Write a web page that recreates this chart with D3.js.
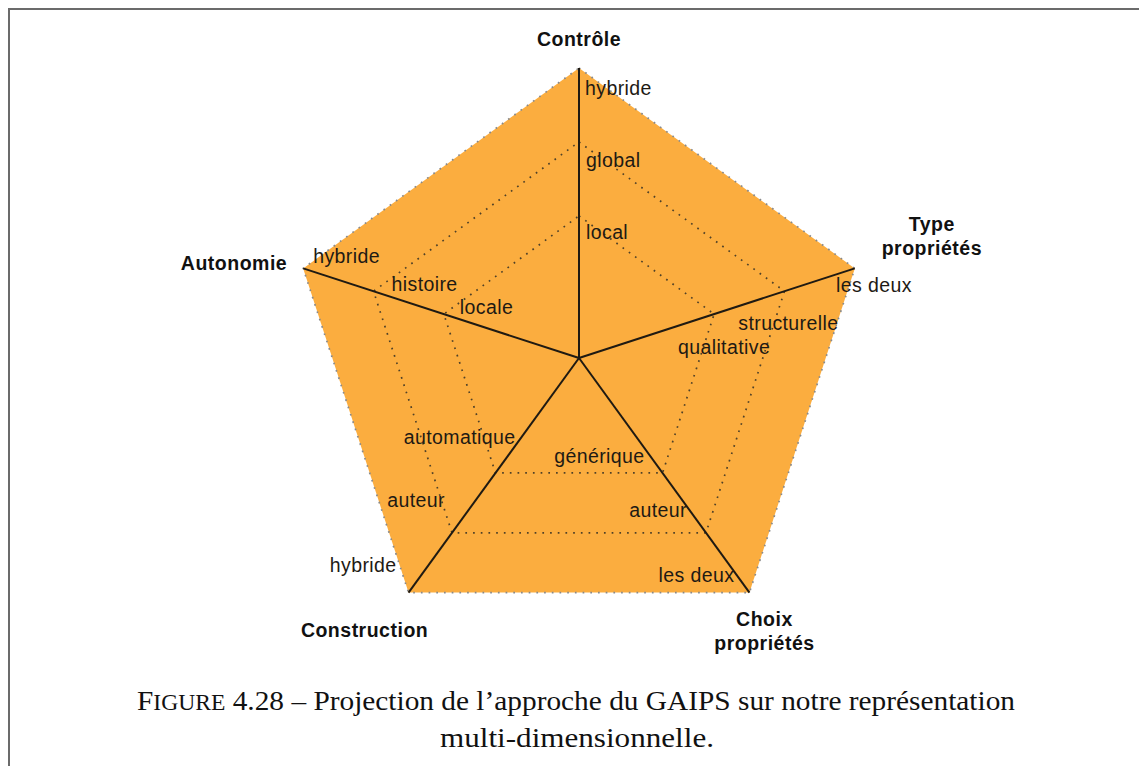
<!DOCTYPE html>
<html>
<head>
<meta charset="utf-8">
<script src="https://cdnjs.cloudflare.com/ajax/libs/d3/7.8.5/d3.min.js"></script>
<style>
  html, body { margin: 0; padding: 0; background: #fff; }
  svg { display: block; }
  .level-label { font-family: "Liberation Sans", Arial, sans-serif; font-size: 19.5px; letter-spacing: 0.4px; fill: #1e1a14; }
  .axis-title { font-family: "Liberation Sans", Arial, sans-serif; font-size: 19.5px; font-weight: bold; letter-spacing: 0.5px; fill: #111; }
  .caption { font-family: "Liberation Serif", "Times New Roman", serif; font-size: 28px; fill: #111; }
</style>
</head>
<body>
<svg id="chart" width="1139" height="766"></svg>
<script>
// Axes, clockwise from the top.
var axes = ['Contrôle', 'Type propriétés', 'Choix propriétés', 'Construction', 'Autonomie'];

// Level names for each axis, from the centre outward.
var levelNames = [
  ['local', 'global', 'hybride'],
  ['qualitative', 'structurelle', 'les deux'],
  ['générique', 'auteur', 'les deux'],
  ['automatique', 'auteur', 'hybride'],
  ['locale', 'histoire', 'hybride']
];

var levels = [1, 2, 3];

// GAIPS position on each axis (level index).
var gaipsValues = [3, 3, 3, 3, 3];

var captionLine1 = ['F', 'IGURE', ' 4.28 – Projection de l’approche du GAIPS sur notre représentation'];
var captionLine2 = 'multi-dimensionnelle.';

// Layout (not data): text offsets from each level point, inner to outer.
var labelPlacement = [
  { anchor: 'start', dx: [7, 7, 6], dy: [16, 18, 20] },
  { anchor: 'end', dx: [56, 54, 57], dy: [33, 32, 17] },
  { anchor: 'end', dx: [-18, -19, -15], dy: [-17, -23, -17] },
  { anchor: 'end', dx: [20, -7, -12], dy: [-36, -33, -27] },
  { anchor: 'start', dx: [16, 18, 10], dy: [-7, -7, -12] }
];
var titlePlacement = [
  { anchor: 'middle', dx: 0, dy: -29 },
  { anchor: 'middle', dx: 77, dy: -44 },
  { anchor: 'middle', dx: 15, dy: 27 },
  { anchor: 'middle', dx: -44, dy: 38 },
  { anchor: 'end', dx: -16, dy: -5 }
];

var svg = d3.select('#chart');
var cx = 579, cy = 358, R = 290;

// The picture has a frame on the top and left only.
svg.append('path')
  .attr('d', 'M9,766 V9 H1139')
  .attr('fill', 'none')
  .attr('stroke', '#6b6b6b')
  .attr('stroke-width', 2);

var angle = d3.scaleLinear()
  .domain([0, axes.length])
  .range([0, 2 * Math.PI]);

var radius = d3.scaleLinear()
  .domain([0, 3])
  .range([0.235 * R, R]);

function point(i, v) {
  var a = angle(i);
  return [cx + radius(v) * Math.sin(a), cy - radius(v) * Math.cos(a)];
}

var g = svg.append('g');

// Filled area for GAIPS.
g.append('path')
  .attr('d', d3.line()(gaipsValues.map(function(v, i) { return point(i, v); })) + 'Z')
  .attr('fill', '#fbad3f');

// Dotted level polygons.
g.selectAll('.grid')
  .data(levels)
  .enter().append('path')
    .attr('class', 'grid')
    .attr('d', function(lv) {
      return d3.line()(axes.map(function(a, i) { return point(i, lv); })) + 'Z';
    })
    .attr('fill', 'none')
    .attr('stroke', function(lv) { return lv === 3 ? '#8a8a8a' : '#4f4128'; })
    .attr('stroke-width', 1.7)
    .attr('stroke-dasharray', '1.7,6');

// Axis lines.
g.selectAll('.axis')
  .data(axes)
  .enter().append('line')
    .attr('class', 'axis')
    .attr('x1', cx)
    .attr('y1', cy)
    .attr('x2', function(d, i) { return point(i, 3)[0]; })
    .attr('y2', function(d, i) { return point(i, 3)[1]; })
    .attr('stroke', '#1f1a12')
    .attr('stroke-width', 2);

// Level labels.
axes.forEach(function(a, i) {
  var pl = labelPlacement[i];
  g.selectAll('.lbl' + i)
    .data(levels)
    .enter().append('text')
      .attr('class', 'level-label')
      .attr('x', function(lv) { return point(i, lv)[0] + pl.dx[lv - 1]; })
      .attr('y', function(lv) { return point(i, lv)[1] + pl.dy[lv - 1]; })
      .attr('dy', '0.35em')
      .attr('text-anchor', pl.anchor)
      .text(function(lv) { return levelNames[i][lv - 1]; });
});

// Axis titles (two lines for the long ones).
axes.forEach(function(a, i) {
  var pl = titlePlacement[i];
  var p = point(i, 3);
  var words = /propriétés/.test(a) ? a.split(' ') : [a];
  var t = g.append('text')
    .attr('class', 'axis-title')
    .attr('text-anchor', pl.anchor);
  words.forEach(function(w, k) {
    t.append('tspan')
      .attr('x', p[0] + pl.dx)
      .attr('y', p[1] + pl.dy + k * 24)
      .attr('dy', '0.35em')
      .text(w);
  });
});

// Caption.
var c1 = svg.append('text')
  .attr('class', 'caption')
  .attr('x', 576)
  .attr('y', 710)
  .attr('text-anchor', 'middle')
  .attr('textLength', 878)
  .attr('lengthAdjust', 'spacingAndGlyphs');
c1.append('tspan').text(captionLine1[0]);
c1.append('tspan').style('font-size', '22.5px').text(captionLine1[1]);
c1.append('tspan').text(captionLine1[2]);

svg.append('text')
  .attr('class', 'caption')
  .attr('x', 577)
  .attr('y', 747)
  .attr('text-anchor', 'middle')
  .attr('textLength', 274)
  .attr('lengthAdjust', 'spacingAndGlyphs')
  .text(captionLine2);
</script>
</body>
</html>
